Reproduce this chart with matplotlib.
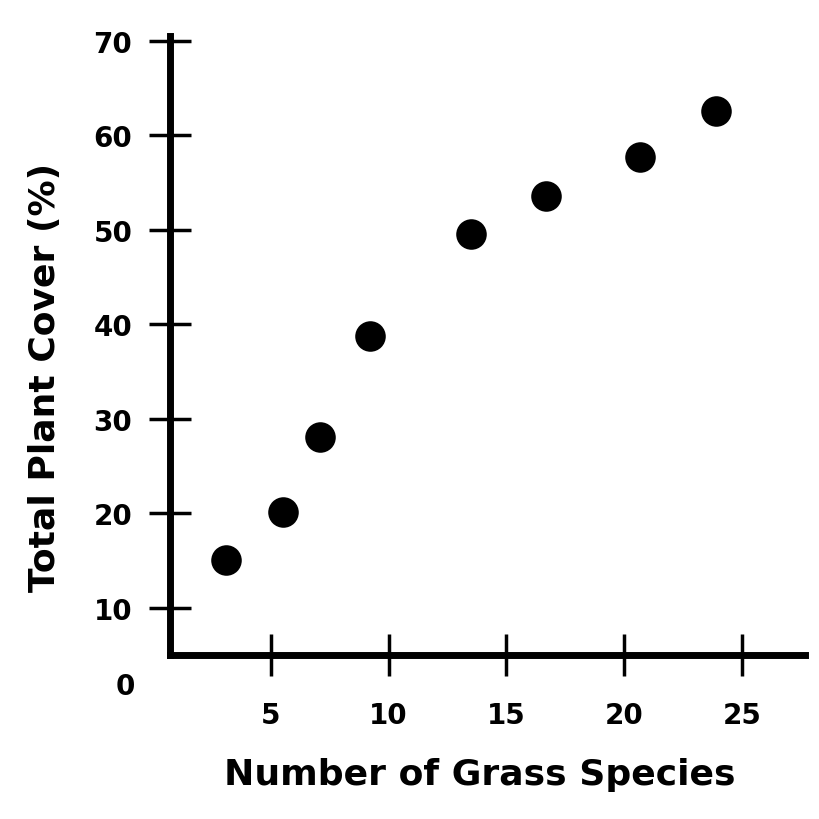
import matplotlib
matplotlib.use("Agg")
import matplotlib.pyplot as plt

# Data
grass_species = [3.1, 5.5, 7.1, 9.2, 13.5, 16.7, 20.7, 23.9]
plant_cover = [15.1, 20.1, 28.1, 38.7, 49.5, 53.6, 57.7, 62.6]

x_ticks = [5, 10, 15, 20, 25]
y_ticks = [10, 20, 30, 40, 50, 60, 70]

fig = plt.figure(figsize=(8.2, 8.2), dpi=100)
ax = fig.add_axes([0.207, 0.2, 0.775, 0.755])

ax.plot(grass_species, plant_cover, 'o', color='black', markersize=22,
        markeredgewidth=0)

ax.set_xlim(0.7, 27.7)
ax.set_ylim(5, 70.5)

for s in ['top', 'right']:
    ax.spines[s].set_visible(False)
for s in ['left', 'bottom']:
    ax.spines[s].set_linewidth(5)
    ax.spines[s].set_color('black')

ax.set_xticks(x_ticks)
ax.set_yticks(y_ticks)
ax.tick_params(axis='both', direction='inout', length=30, width=2.5,
               labelsize=20, colors='black')
ax.tick_params(axis='x', pad=18)
ax.tick_params(axis='y', pad=12)
for lab in ax.get_xticklabels() + ax.get_yticklabels():
    lab.set_fontweight('bold')

ax.text(-0.07, -0.05, '0', transform=ax.transAxes, fontsize=20,
        fontweight='bold', ha='center', va='center')

ax.set_xlabel('Number of Grass Species', fontsize=26, fontweight='bold')
ax.set_ylabel('Total Plant Cover (%)', fontsize=26, fontweight='bold')
ax.xaxis.set_label_coords(0.488, -0.192)
ax.yaxis.set_label_coords(-0.197, 0.45)
ax.xaxis.label.set_va('center')
ax.yaxis.label.set_va('center')

fig.savefig('out.png', dpi=100)
